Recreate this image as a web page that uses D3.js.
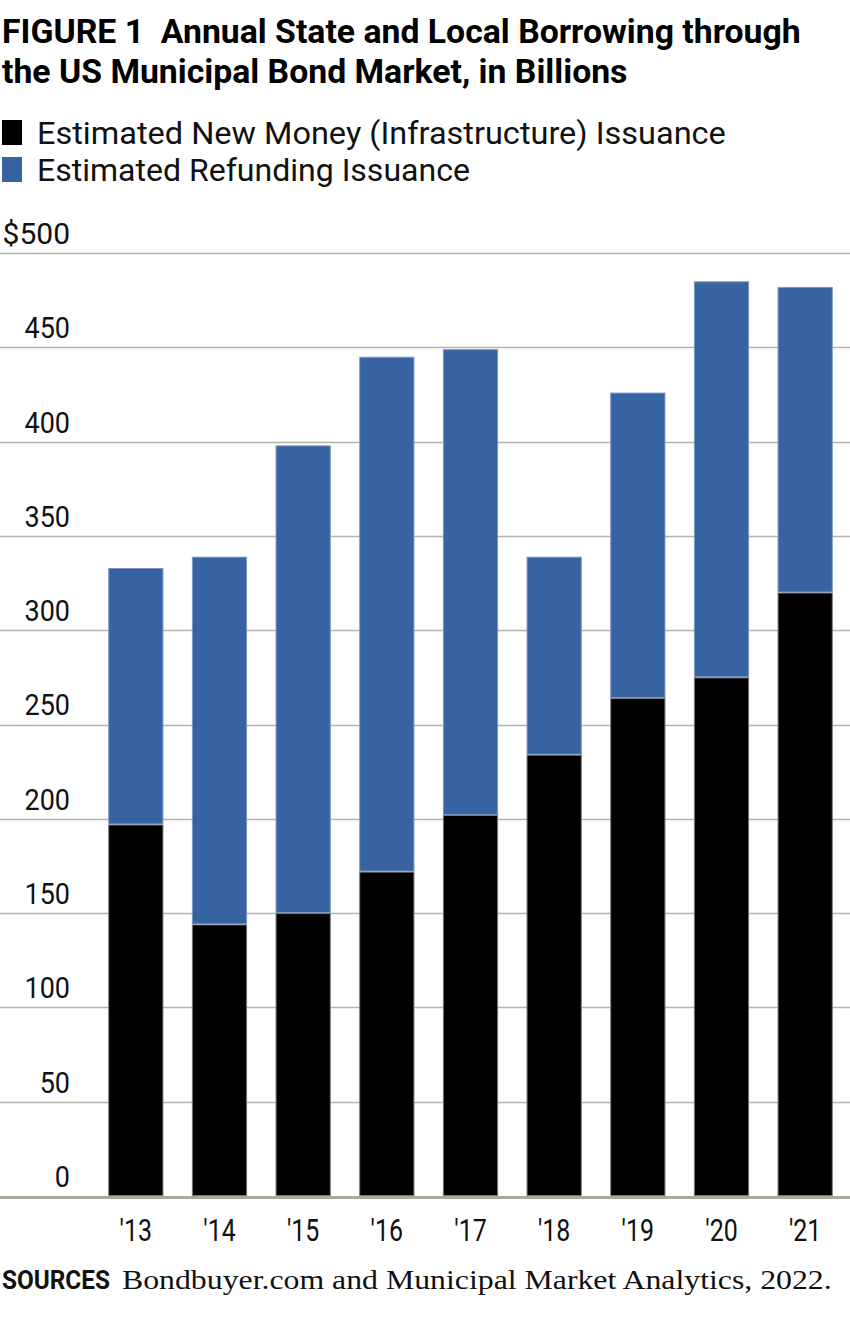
<!DOCTYPE html>
<html><head><meta charset="utf-8">
<script src="https://cdn.jsdelivr.net/npm/d3@7"></script>
<style>
html,body{margin:0;padding:0;background:#fff;}
svg{display:block;}
.cond{font-family:"Roboto","Liberation Sans",sans-serif;}
.serif{font-family:"Liberation Serif","DejaVu Serif",serif;}
</style>
</head><body>
<script>
const years = ["'13","'14","'15","'16","'17","'18","'19","'20","'21"];
const newMoney = [197, 144, 150, 172, 202, 234, 264, 275, 320];
const refunding = [136, 195, 248, 273, 247, 105, 162, 210, 162];
const yTicks = [0, 50, 100, 150, 200, 250, 300, 350, 400, 450, 500];
const seriesNames = ["Estimated New Money (Infrastructure) Issuance", "Estimated Refunding Issuance"];
const seriesColors = ["#000000", "#3763a2"];

const W = 850, H = 1319;
const svg = d3.select("body").append("svg").attr("width", W).attr("height", H);

// Helper: horizontally scale a text element to a target width using a transform
function fitWidth(sel, target, anchorX, measureNode) {
  const w = (measureNode || sel.node()).getComputedTextLength();
  const k = target / w;
  sel.attr("transform", `translate(${anchorX},0) scale(${k},1) translate(${-anchorX},0)`);
}

// Title (one text element, two lines)
const title = svg.append("text").attr("class","cond").attr("font-weight","bold").attr("font-size",34).attr("fill","#000");
const t1 = title.append("tspan").attr("x",2).attr("y",43).text("FIGURE 1\u00A0\u00A0Annual State and Local Borrowing through");
title.append("tspan").attr("x",2).attr("y",83).text("the US Municipal Bond Market, in Billions");
fitWidth(title, 799, 2, t1.node());

// Legend
const legLens = [689, 433];
seriesNames.forEach((n,i)=>{
  const yy = 120 + i*37;
  svg.append("rect").attr("x",2).attr("y",yy).attr("width",20).attr("height",25).attr("fill",seriesColors[i]);
  const lt = svg.append("text").attr("class","cond").attr("x",37).attr("y",yy+24).attr("font-size",31).attr("fill","#111").text(n);
  fitWidth(lt, legLens[i], 37);
});

const y = d3.scaleLinear().domain([0,500]).range([1196,253]);
const x = d3.scaleBand().domain(years).range([94,847]).paddingInner(0.34).paddingOuter(0.17);

// gridlines
svg.append("g").selectAll("line").data(yTicks.filter(d=>d>0)).join("line")
  .attr("x1",0).attr("x2",W).attr("y1",d=>Math.round(y(d))+0.5).attr("y2",d=>Math.round(y(d))+0.5)
  .attr("stroke","#b3b3aa").attr("stroke-width",1.3);

// y labels
svg.append("g").selectAll("text").data(yTicks).join("text").attr("class","cond")
  .attr("x",70).attr("y",d=>y(d)-9).attr("text-anchor","end").attr("font-size",30).attr("fill","#111")
  .attr("transform",d=> d===500 ? null : `translate(70,0) scale(0.9,1) translate(-70,0)`)
  .text(d=> d===500 ? "$500" : d);

// stacked bars
const stackData = years.map((yr,i)=>({year:yr, a:newMoney[i], b:refunding[i]}));
const stacked = d3.stack().keys(["a","b"])(stackData);
const strokes = ["#777777","#7d97c2"];
svg.append("g").selectAll("g").data(stacked).join("g")
  .attr("fill",(d,i)=>seriesColors[i]).attr("stroke",(d,i)=>strokes[i]).attr("stroke-width",1)
  .selectAll("rect").data(d=>d).join("rect")
  .attr("x",d=>x(d.data.year)+0.5).attr("width",x.bandwidth()-1)
  .attr("y",d=>y(d[1])+0.5).attr("height",d=>y(d[0])-y(d[1])-1);

// baseline
svg.append("line").attr("x1",0).attr("x2",W).attr("y1",y(0)+1.5).attr("y2",y(0)+1.5)
  .attr("stroke","#a9a99c").attr("stroke-width",3);

// x labels
svg.append("g").selectAll("text").data(years).join("text").attr("class","cond")
  .attr("x",d=>x(d)+x.bandwidth()/2).attr("y",1241).attr("text-anchor","middle")
  .attr("font-size",32).attr("fill","#111")
  .attr("transform",d=>{const cx=x(d)+x.bandwidth()/2; return `translate(${cx},0) scale(0.78,1) translate(${-cx},0)`;})
  .text(d=>d);

// sources
const s1 = svg.append("text").attr("class","cond").attr("x",2).attr("y",1289).attr("font-weight","bold").attr("font-size",25)
  .attr("fill","#111").text("SOURCES");
fitWidth(s1, 108, 2);
const s2 = svg.append("text").attr("class","serif").attr("x",122).attr("y",1289).attr("font-size",27).attr("fill","#111")
  .text("Bondbuyer.com and Municipal Market Analytics, 2022.");
fitWidth(s2, 710, 122);
</script>
</body></html>
